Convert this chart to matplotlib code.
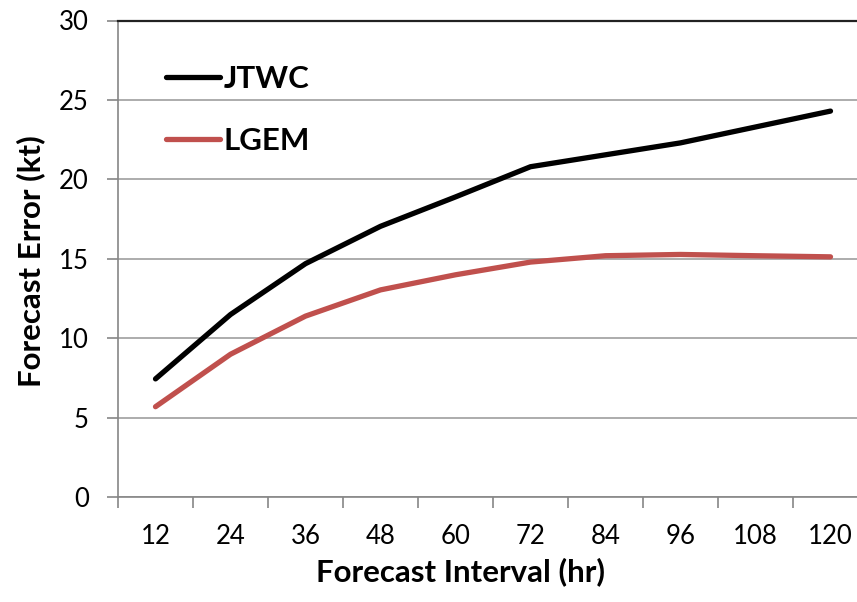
import numpy as np
import matplotlib
matplotlib.use('Agg')
import matplotlib.pyplot as plt

plt.rcParams['font.family'] = ['Lato', 'DejaVu Sans']

# forecast interval categories (hr)
hours = ['12', '24', '36', '48', '60', '72', '84', '96', '108', '120']
# mean forecast error (kt)
jtwc = [7.45, 11.5, 14.7, 17.05, 18.9, 20.8, 21.55, 22.3, 23.3, 24.3]
lgem = [5.7, 9.0, 11.4, 13.05, 14.0, 14.8, 15.2, 15.28, 15.2, 15.13]

fig = plt.figure(figsize=(8.57, 6.02), dpi=100)
W, H = 857, 602
left, right, top, bottom = 118, 868, 20.5, 497.3
ax = fig.add_axes([left / W, 1 - bottom / H, (right - left) / W, (bottom - top) / H])

x = np.arange(len(hours))
ax.plot(x, jtwc, color='black', lw=3.8, solid_capstyle='round', label='JTWC')
ax.plot(x, lgem, color='#C0504D', lw=3.8, solid_capstyle='round', label='LGEM')

ax.set_xlim(-0.5, len(hours) - 0.5)
ax.set_ylim(0, 30)
ax.set_yticks(range(0, 31, 5))
ax.set_xticks(x)
ax.set_xticklabels(hours)
ax.set_xticks(np.arange(-0.5, len(hours), 1), minor=True)
ax.tick_params(axis='x', which='major', length=0, pad=19, labelsize=18.5)
ax.tick_params(axis='x', which='minor', length=8, width=1.2, color='#868686', direction='out')
ax.tick_params(axis='y', length=8, width=1.2, color='#868686', pad=13, labelsize=18.5)

ax.yaxis.grid(True, color='#A6A6A6', lw=1.3)
ax.set_axisbelow(True)
for s in ['left', 'bottom']:
    ax.spines[s].set_color('#868686')
    ax.spines[s].set_linewidth(1.2)
ax.spines['top'].set_color('#222222')
ax.spines['top'].set_linewidth(1.6)
ax.spines['right'].set_visible(False)

fig.text(460 / W, 1 - 572 / H, 'Forecast Interval (hr)', ha='center', va='center',
         fontsize=22.5, fontweight='bold')
fig.text(31 / W, 1 - 261 / H, 'Forecast Error (kt)', ha='center', va='center',
         rotation=90, fontsize=22.5, fontweight='bold')

leg = ax.legend(loc='upper left', bbox_to_anchor=(35 / (right - left), 1 - 32 / (bottom - top)),
                frameon=False, fontsize=22.5, handlelength=1.75, handletextpad=0.12,
                labelspacing=1.1, borderaxespad=0)
for t in leg.get_texts():
    t.set_fontweight('bold')

fig.savefig('out.png', dpi=100)
